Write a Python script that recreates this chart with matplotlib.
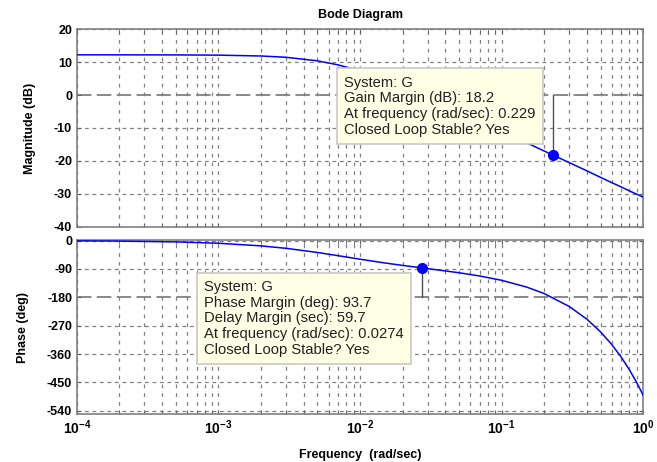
import matplotlib
matplotlib.use('Agg')
import matplotlib.pyplot as plt
from matplotlib.ticker import LogLocator, NullFormatter

# Frequency samples (rad/sec) and values
freq = [1e-4, 2e-4, 5e-4, 1e-3, 2e-3, 3e-3, 5e-3, 7e-3, 1e-2, 1.5e-2, 2e-2,
        3e-2, 5e-2, 7e-2, 0.1, 0.15, 0.2, 0.3, 0.4, 0.5, 0.6, 0.7, 0.8, 0.9, 1.0]
magnitude = [12.19, 12.19, 12.17, 12.10, 11.84, 11.45, 10.38, 9.15, 7.31, 4.66, 2.51,
             -0.75, -5.04, -7.92, -11.0, -14.5, -17.0, -20.5, -23.0, -25.0, -26.6,
             -27.9, -29.1, -30.1, -31.0]
phase = [-0.9, -1.7, -4.3, -8.6, -16.9, -24.6, -37.8, -48.0, -59.2, -71.2, -78.9,
         -89.0, -102.1, -112.4, -126.1, -147.5, -168.2, -209.0, -249.4, -289.7,
         -329.9, -370.1, -410.4, -450.5, -490.7]

# Stability margin points
gm_freq, gm_mag = 0.229, -18.2
pm_freq, pm_phase = 0.0274, -86.3

mag_ticks = [20, 10, 0, -10, -20, -30, -40]
phase_ticks = [0, -90, -180, -270, -360, -450, -540]
x_ticks = [1e-4, 1e-3, 1e-2, 1e-1, 1e0]
x_labels = ['$\\mathregular{10^{-4}}$', '$\\mathregular{10^{-3}}$', '$\\mathregular{10^{-2}}$',
            '$\\mathregular{10^{-1}}$', '$\\mathregular{10^{0}}$']

gm_text = 'System: G\nGain Margin (dB): 18.2\nAt frequency (rad/sec): 0.229\nClosed Loop Stable? Yes'
pm_text = ('System: G\nPhase Margin (deg): 93.7\nDelay Margin (sec): 59.7\n'
           'At frequency (rad/sec): 0.0274\nClosed Loop Stable? Yes')

plt.rcParams['font.family'] = ['Liberation Sans', 'DejaVu Sans']

fig = plt.figure(figsize=(6.57, 4.62), dpi=100)
ax1 = fig.add_axes([0.117, 0.509, 0.862, 0.428])
ax2 = fig.add_axes([0.117, 0.104, 0.862, 0.376])

grid_color = '#808080'


def style_axis(ax, yticks, ylim, emph):
    ax.set_xscale('log')
    ax.set_xlim(1e-4, 1)
    ax.set_ylim(*ylim)
    ax.set_yticks(yticks)
    ax.set_yticklabels([str(t) for t in yticks], fontsize=9, fontweight='bold')
    ax.xaxis.set_minor_locator(LogLocator(base=10, subs=range(2, 10), numticks=20))
    ax.xaxis.set_minor_formatter(NullFormatter())
    # vertical grid at every decade and minor tick
    ax.grid(True, which='both', axis='x', color=grid_color, linestyle=(0, (3, 4)), linewidth=0.9)
    for t in yticks:
        if t == emph:
            ax.axhline(t, color=grid_color, linestyle=(0, (8, 3)), linewidth=1.3, zorder=1)
        else:
            ax.axhline(t, color=grid_color, linestyle=(0, (3, 3)), linewidth=0.9, zorder=1)
    ax.tick_params(axis='both', which='both', direction='in', length=3, colors='#606060',
                   labelcolor='black', top=True, right=True)
    for s in ax.spines.values():
        s.set_color('#808080')
        s.set_linewidth(1.2)


style_axis(ax1, mag_ticks, (-40, 20), 0)
style_axis(ax2, phase_ticks, (-550, 1), -180)

ax1.set_xticks(x_ticks)
ax1.set_xticklabels([])
ax2.set_xticks(x_ticks)
ax2.set_xticklabels(x_labels, fontsize=10, fontweight='bold')

# Bode curves
ax1.plot(freq, magnitude, color='#0000ff', linewidth=1.1, zorder=3)
ax2.plot(freq, phase, color='#0000ff', linewidth=1.1, zorder=3)

# Gain margin marker and line
ax1.plot([gm_freq, gm_freq], [0, gm_mag], color='#505050', linewidth=1.0, zorder=3)
ax1.plot(gm_freq, gm_mag, 'o', color='#0000ff', markersize=7, zorder=4)
# Phase margin marker and line
ax2.plot([pm_freq, pm_freq], [-180, pm_phase], color='#505050', linewidth=1.0, zorder=3)
ax2.plot(pm_freq, pm_phase, 'o', color='#0000ff', markersize=7, zorder=4)

box = dict(boxstyle='square,pad=0.5', facecolor='#ffffe6', edgecolor='#c8c8c8', linewidth=1.2)
ax1.text(0.472, 0.765, gm_text, transform=ax1.transAxes, ha='left', va='top', fontsize=10.6,
         color='#202020', linespacing=1.15, bbox=box, zorder=5)
ax2.text(0.225, 0.77, pm_text, transform=ax2.transAxes, ha='left', va='top', fontsize=10.6,
         color='#202020', linespacing=1.15, bbox=box, zorder=5)

ax1.set_title('Bode Diagram', fontsize=9, fontweight='bold', pad=8)
ax1.set_ylabel('Magnitude (dB)', fontsize=9, fontweight='bold', labelpad=13)
ax2.set_ylabel('Phase (deg)', fontsize=9, fontweight='bold', labelpad=13)
ax2.set_xlabel('Frequency  (rad/sec)', fontsize=9, fontweight='bold', labelpad=8)

fig.savefig('out.png', dpi=100)
